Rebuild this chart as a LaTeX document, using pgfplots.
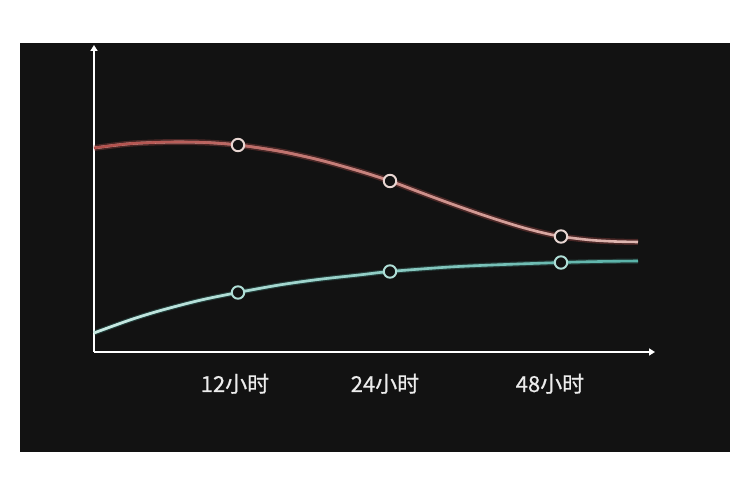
\documentclass[border=0pt]{standalone}
\usepackage{fontspec}
\usepackage{pgfplots}
\pgfplotsset{compat=1.18}
\usetikzlibrary{arrows.meta,fadings}
\newfontfamily\cjk[FakeBold=0.6]{Noto Sans CJK SC}

\definecolor{panel}{HTML}{121212}
\definecolor{redL}{RGB}{178,78,74}
\definecolor{redR}{RGB}{224,186,180}
\definecolor{tealL}{RGB}{205,234,228}
\definecolor{tealR}{RGB}{88,178,168}
\definecolor{ringR}{RGB}{232,214,210}
\definecolor{ringT}{RGB}{175,222,214}
\definecolor{labelc}{RGB}{236,236,236}

% opaque on the left, transparent on the right
\tikzfading[name=fade out right, left color=transparent!0, right color=transparent!100]

% upper curve (red), y measured upward
\pgfplotstableread{
x y
94 333
130 337.3
170 338.9
205 338.5
238 336
280 329.7
320 320.9
360 309.7
390 300
420 288.7
450 277.6
485 265.3
517 255.1
540 248.9
561 244.5
590 241
615 239.5
638 239
}\redcurve

% lower curve (teal)
\pgfplotstableread{
x y
94 148
130 161
160 170.3
200 180.7
238 188.5
280 196.1
320 201.7
360 206.1
390 209.5
450 214
500 216.3
561 218.5
600 219.5
638 220
}\tealcurve

\begin{document}
\begin{tikzpicture}[x=1pt,y=1pt]
  % page and dark panel
  \fill[white] (-94,-129) rectangle (656,352);
  \fill[panel] (-74,-100) rectangle (636,309);
  \begin{axis}[
    x=1pt, y=1pt,
    xmin=94, xmax=655, ymin=129, ymax=436,
    axis lines=left,
    axis line style={draw=white, line width=1.8pt, -{Triangle[length=6pt,width=7pt]}},
    xtick={235,385,550},
    xticklabels={12小时,24小时,48小时},
    ytick=\empty,
    major tick length=0pt,
    xticklabel style={font=\cjk\fontsize{22}{26}\selectfont, text=labelc, anchor=base, yshift=-40pt},
    clip=false,
  ]
    % soft halo under the red curve
    \addplot[smooth, no marks, draw=redL, opacity=0.35, line width=6pt] table {\redcurve};
    \addplot[smooth, no marks, draw=redR, line width=2.6pt] table {\redcurve};
    \addplot[smooth, no marks, draw=redL, line width=2.6pt, path fading=fade out right] table {\redcurve};

    \addplot[smooth, no marks, draw=tealR, opacity=0.25, line width=5pt] table {\tealcurve};
    \addplot[smooth, no marks, draw=tealR, line width=2.6pt] table {\tealcurve};
    \addplot[smooth, no marks, draw=tealL, line width=2.6pt, path fading=fade out right] table {\tealcurve};

    % measured points
    \addplot[only marks, mark=*, mark size=6.2pt,
      mark options={draw=ringR, fill=panel, line width=2pt}]
      coordinates {(238,336) (390,300) (561,244.5)};
    \addplot[only marks, mark=*, mark size=6.2pt,
      mark options={draw=ringT, fill=panel, line width=2pt}]
      coordinates {(238,188.5) (390,209.5) (561,218.5)};
  \end{axis}
\end{tikzpicture}
\end{document}
